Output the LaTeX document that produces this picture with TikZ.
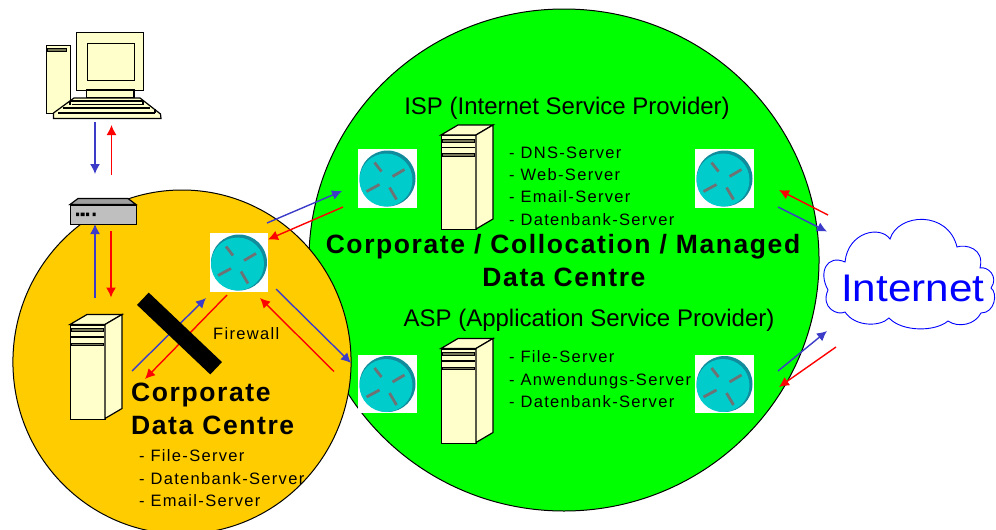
\documentclass[tikz,border=0pt]{standalone}
\usepackage{fontspec}
\usetikzlibrary{arrows.meta}
\setmainfont{Liberation Sans}
\newfontfamily\spreg[LetterSpace=8]{Liberation Sans}
\newfontfamily\spbold[LetterSpace=6]{Liberation Sans}
\definecolor{dcgreen}{HTML}{00FF00}
\definecolor{dcorange}{HTML}{FFCC00}
\definecolor{cream}{HTML}{FFFFCC}
\definecolor{rcyan}{HTML}{00CCCC}
\definecolor{rteal}{HTML}{108C9C}
\definecolor{rgray}{HTML}{6E7274}
\definecolor{lblue}{HTML}{3C3CC8}
\definecolor{slotgray}{HTML}{77775A}
\tikzset{
  routerbox/.style={draw=none,fill=white,minimum size=58.5pt,inner sep=0pt},
  hw/.style={draw=black,line width=1.2pt,fill=cream,line join=miter},
  bluearrow/.style={draw=lblue,line width=1.4pt,-{Latex[length=10pt,width=10pt]}},
  redarrow/.style={draw=red,line width=1.4pt,-{Latex[length=10pt,width=10pt]}},
  heading/.style={anchor=base,inner sep=0pt,font=\fontsize{26.5}{30}\spbold\bfseries},
  headleft/.style={heading,anchor=base west},
  provider/.style={anchor=base,inner sep=0pt,font=\fontsize{24}{28}\selectfont},
  item/.style={anchor=base west,inner sep=0pt,font=\fontsize{16.5}{20}\spreg},
}
\newcommand{\router}[3]{%
  \node[routerbox] (#1) at (#2,#3) {};
  \begin{scope}[shift={(#2,#3)}]
    \fill[rteal] (0,0) circle (28pt);
    \fill[rcyan] (-1.5,1.5) circle (26.5pt);
    \draw[rgray,line width=2.8pt] (-13,-16) -- (-6,-7) (5,-2) -- (17,-9) (-21,13) -- (-8,6) (2,9) -- (9,21);
  \end{scope}}
\newcommand{\server}[3]{%
  \node[hw,minimum width=35pt,minimum height=94pt,inner sep=0pt,anchor=north west] (#1) at (#2,#3) {};
  \begin{scope}[shift={(#2,#3)}]
    \draw[hw] (0,0) -- (17,-10) -- (52,-10) -- (35,0) -- cycle;
    \draw[hw] (35,0) -- (52,-10) -- (52,84) -- (35,94) -- cycle;
    \draw[black,line width=.8pt,fill=slotgray] (1.7,4.3) rectangle (33.3,7);
    \draw[black,line width=1.4pt] (1,12.3) -- (34,12.3);
    \draw[black,line width=.8pt,fill=slotgray] (1.7,18.4) rectangle (33.3,21);
  \end{scope}}
\newcommand{\conn}[6]{% style, name, x1,y1,x2,y2
  \coordinate (#2a) at (#3,#4);
  \coordinate (#2b) at (#5,#6);
  \draw[#1] (#2a) -- (#2b);}
\begin{document}
\begin{tikzpicture}[x=1pt,y=-1pt]
\useasboundingbox (0,0) rectangle (996,530);
\begin{scope}
\clip (0,0) rectangle (996,530);
% circles
\node[draw=black,line width=1pt,fill=dcgreen,shape=circle,inner sep=0pt,minimum size=502pt,xscale=1.016] (greencircle) at (564,260) {};
\node[draw=black,line width=1pt,fill=dcorange,shape=circle,inner sep=0pt,minimum size=344pt,xscale=.983] (orangecircle) at (182,362) {};
\end{scope}
% computer
\node[hw,minimum width=24.5pt,minimum height=68pt,inner sep=0pt,anchor=north west] (tower) at (45.5,44.5) {};
\draw[black,line width=.8pt,fill=slotgray] (47.5,48.5) rectangle (66.5,51);
\node[hw,minimum width=66.5pt,minimum height=58pt,inner sep=0pt,anchor=north west] (monitor) at (76,32) {};
\node[hw,minimum width=47.5pt,minimum height=37.5pt,inner sep=0pt,anchor=north west] (screen) at (86.5,42.5) {};
\draw[hw] (86.5,90) rectangle (134,98);
\draw[hw] (74,98) -- (140,98) -- (160.5,114) -- (161,118.5) -- (53.5,118.5) -- (53.5,113) -- cycle;
\draw[black,line width=1.2pt] (70,101) -- (143,101) (72,104.5) -- (143,104.5) (63,108) -- (150,108) (58,113) -- (155,113);
\draw[black,line width=1.2pt] (70,101) -- (70,104.5) (143,101) -- (143,104.5) (155,109) -- (155,113);
% switch
\draw[black,line width=1.2pt,fill=gray!75] (70,204.5) -- (78,198.5) -- (128,198.5) -- (136,204.5) -- cycle;
\node[draw=black,line width=1.2pt,fill=gray!50,minimum width=66pt,minimum height=19pt,inner sep=0pt,anchor=north west] (switch) at (70,204.5) {};
\fill[black] (76,212.5) rectangle (79,216) (80.5,212.5) rectangle (84.5,216) (86,212.5) rectangle (89,216) (92.5,212.5) rectangle (95.5,216);
% routers
\router{rcenter}{239}{262.5}
\router{rispl}{387.5}{178.5}
\router{rispr}{724.5}{178.5}
\router{raspl}{387.5}{384}
\router{raspr}{724.5}{384}
% servers
\server{sisp}{441}{135}
\server{sasp}{441}{348.5}
\server{scorp}{70}{324.5}
% connectors
\conn{bluearrow}{aa}{95}{122}{95}{174}
\conn{redarrow}{ab}{111.5}{174.5}{111.5}{125}
\conn{bluearrow}{ac}{95}{298}{95}{224}
\conn{redarrow}{ad}{111}{231}{111}{297.5}
\conn{bluearrow}{ae}{132}{371}{206}{298}
\conn{redarrow}{af}{227}{295}{145}{379}
% firewall
\node[fill=black,minimum width=101pt,minimum height=17pt,inner sep=0pt,rotate=-43.5] (firewall) at (179.5,333.5) {};
\conn{bluearrow}{ag}{276}{289}{351}{363}
\conn{redarrow}{ah}{334}{371.5}{260}{298}
\conn{bluearrow}{ai}{267}{223}{342}{191}
\conn{redarrow}{aj}{343}{207}{268}{239.5}
\conn{redarrow}{ak}{828}{215}{779}{190}
\conn{bluearrow}{al}{778}{207}{827}{231.5}
\conn{bluearrow}{am}{778}{371}{827}{331}
\conn{redarrow}{an}{836}{347}{779}{387}
% cloud
\draw[draw=blue,line width=.9pt,fill=white] (845,262) .. controls (848,232) and (880,225) .. (890,239)
  .. controls (898,213) and (948,210) .. (957,247)
  .. controls (965,244) and (985,248) .. (980,268)
  .. controls (988,266) and (999,277) .. (991,288)
  .. controls (998,293) and (995,313) .. (981,313)
  .. controls (975,325) and (958,328) .. (948,321)
  .. controls (935,332) and (902,332) .. (889,318)
  .. controls (880,327) and (855,327) .. (845,312)
  .. controls (838,316) and (820,308) .. (828,290)
  .. controls (818,272) and (827,254) .. (845,262) -- cycle;
\node[anchor=base west,inner sep=0pt,text=blue,font=\fontsize{38.5}{42}\selectfont] (internet) at (841,301.5) {\scalebox{1.095}[1]{Internet}};
% texts
\node[provider] (isp) at (567,114) {ISP (Internet Service Provider)};
\node[provider] (asp) at (589,326.5) {ASP (Application Service Provider)};
\node[heading] (h1) at (563,253) {Corporate / Collocation / Managed};
\node[heading] (h2) at (564,286.5) {Data Centre};
\node[headleft] (c1) at (131,401) {Corporate};
\node[headleft] (c2) at (131,434) {Data Centre};
\node[item] (i1) at (509,158) {- DNS-Server};
\node[item] (i2) at (509,180) {- Web-Server};
\node[item] (i3) at (509,202.5) {- Email-Server};
\node[item] (i4) at (509,225.5) {- Datenbank-Server};
\node[item] (j1) at (509,362.5) {- File-Server};
\node[item] (j2) at (509,385.5) {- Anwendungs-Server};
\node[item] (j3) at (509,407.5) {- Datenbank-Server};
\node[item] (k1) at (139,461.5) {- File-Server};
\node[item] (k2) at (139,484) {- Datenbank-Server};
\node[item] (k3) at (139,506.5) {- Email-Server};
\node[item] (fw) at (213,339) {Firewall};
\end{tikzpicture}
\end{document}
